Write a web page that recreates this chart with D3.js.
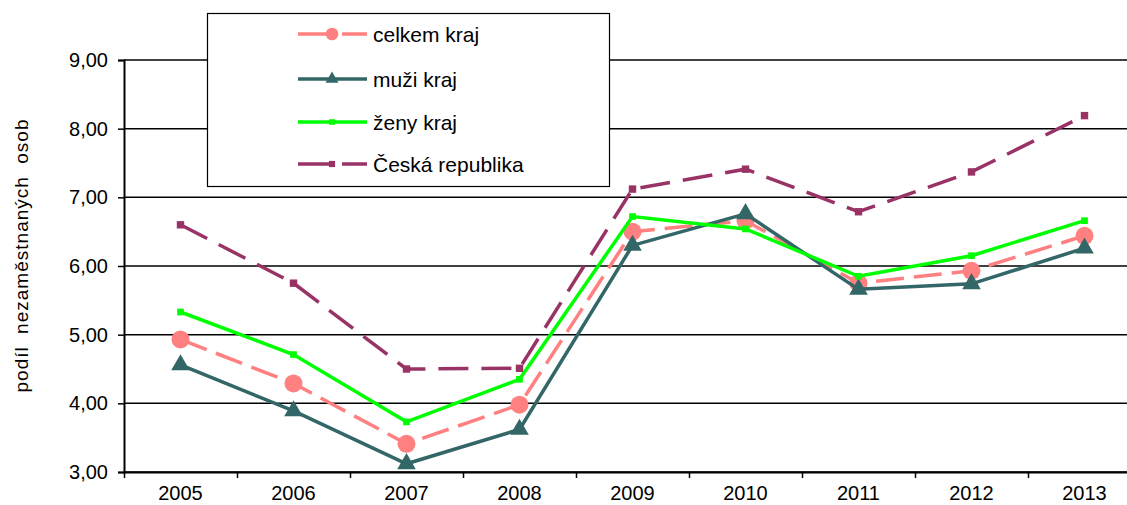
<!DOCTYPE html>
<html>
<head>
<meta charset="utf-8">
<script src="https://cdn.jsdelivr.net/npm/d3@7"></script>
<style>
  body { margin: 0; background: #fff; }
  svg { font-family: "Liberation Sans", Arial, sans-serif; }
</style>
</head>
<body>
<div id="chart"></div>
<script>
// data
const years = ['2005', '2006', '2007', '2008', '2009', '2010', '2011', '2012', '2013'];
const celkem = [4.93, 4.29, 3.41, 3.98, 6.50, 6.66, 5.75, 5.93, 6.44];
const muzi = [4.56, 3.89, 3.12, 3.62, 6.30, 6.76, 5.66, 5.74, 6.26];
const zeny = [5.33, 4.71, 3.73, 4.35, 6.72, 6.54, 5.85, 6.15, 6.66];
const cr = [6.60, 5.75, 4.50, 4.51, 7.12, 7.41, 6.79, 7.37, 8.19];
const yTicks = [3, 4, 5, 6, 7, 8, 9];

const seriesNames = ['celkem kraj', 'muži kraj', 'ženy kraj', 'Česká republika'];

const width = 1127, height = 505;
const plotLeft = 124, plotRight = 1141, plotTop = 60, plotBottom = 472;

const svg = d3.select('#chart').append('svg')
    .attr('width', width)
    .attr('height', height);

const x = d3.scaleBand().domain(years).range([plotLeft, plotRight]).padding(0);
const xEdge = d3.scaleLinear().domain([0, years.length]).range([plotLeft, plotRight]);
const y = d3.scaleLinear().domain([3, 9]).range([plotBottom, plotTop]);
const cx = d => x(d) + x.bandwidth() / 2;

const fmt = v => d3.format('.2f')(v).replace('.', ',');

// gridlines
svg.append('g')
    .selectAll('line')
    .data(yTicks)
    .enter()
    .append('line')
    .attr('x1', plotLeft)
    .attr('x2', plotRight)
    .attr('y1', d => y(d))
    .attr('y2', d => y(d))
    .style('stroke', '#000')
    .style('stroke-width', 1.5);

// y axis
const yAxis = svg.append('g')
    .attr('transform', `translate(${plotLeft},0)`)
    .call(d3.axisLeft(y).tickValues(yTicks).tickFormat(fmt).tickSize(6).tickPadding(10));
yAxis.select('.domain').style('stroke', '#000').style('stroke-width', 2);
yAxis.selectAll('.tick line').style('stroke-width', 1.5);
yAxis.selectAll('text').style('font-size', '20px').style('fill', '#000')
    .style('font-family', '"Liberation Sans", Arial, sans-serif');

// x axis: ticks on band edges, labels centred
const xAxis = svg.append('g')
    .attr('transform', `translate(0,${plotBottom})`)
    .call(d3.axisBottom(xEdge).tickValues(d3.range(years.length + 1)).tickFormat('').tickSize(6).tickSizeOuter(0));
xAxis.select('.domain').style('stroke', '#000').style('stroke-width', 2);
xAxis.selectAll('.tick line').style('stroke-width', 1.5);

svg.append('g')
    .selectAll('text')
    .data(years)
    .enter()
    .append('text')
    .attr('x', d => cx(d))
    .attr('y', 500)
    .attr('text-anchor', 'middle')
    .style('font-size', '20px')
    .text(d => d);

// y title
svg.append('text')
    .attr('transform', `translate(28,256) rotate(-90)`)
    .attr('text-anchor', 'middle')
    .attr('textLength', 273)
    .attr('lengthAdjust', 'spacing')
    .style('font-size', '19px')
    .style('word-spacing', '6px')
    .text('podíl nezaměstnaných osob');

const line = d3.line()
    .x((d, i) => cx(years[i]))
    .y(d => y(d));

const series = [
    { name: seriesNames[0], values: celkem, color: '#FF8080', dash: '28,10', marker: 'circle' },
    { name: seriesNames[1], values: muzi, color: '#336666', dash: null, marker: 'triangle' },
    { name: seriesNames[2], values: zeny, color: '#00FF00', dash: null, marker: 'star' },
    { name: seriesNames[3], values: cr, color: '#993366', dash: '30,13', marker: 'square' }
];

const drawMarker = (g, type, color, px, py, small) => {
    const k = small ? 0.7 : 1;
    if (type === 'circle') {
        g.append('circle').attr('cx', px).attr('cy', py).attr('r', 9 * k).style('fill', color);
    } else if (type === 'triangle') {
        g.append('path')
            .attr('transform', `translate(${px},${py})`)
            .attr('d', d3.symbol().type(d3.symbolTriangle).size(150 * k * k)())
            .style('fill', color);
    } else if (type === 'star') {
        g.append('path')
            .attr('transform', `translate(${px},${py})`)
            .attr('d', d3.symbol().type(d3.symbolSquare).size(45 * k)())
            .style('fill', color);
        g.append('path')
            .attr('transform', `translate(${px},${py})`)
            .attr('d', d3.symbol().type(d3.symbolX).size(60 * k)())
            .style('fill', color);
    } else {
        g.append('path')
            .attr('transform', `translate(${px},${py})`)
            .attr('d', d3.symbol().type(d3.symbolSquare).size(55 * k)())
            .style('fill', color);
    }
};

series.forEach(s => {
    const g = svg.append('g');
    g.append('path')
        .datum(s.values)
        .attr('d', line)
        .style('fill', 'none')
        .style('stroke', s.color)
        .style('stroke-width', 3.5)
        .style('stroke-dasharray', s.dash);
    s.values.forEach((v, i) => drawMarker(g, s.marker, s.color, cx(years[i]), y(v), false));
});

// legend
const lg = svg.append('g');
lg.append('rect')
    .attr('x', 207.5)
    .attr('y', 13.5)
    .attr('width', 402)
    .attr('height', 173)
    .style('fill', '#fff')
    .style('stroke', '#000')
    .style('stroke-width', 1.2);

const rowY = [34, 79, 122, 164];
series.forEach((s, i) => {
    const g = lg.append('g');
    const yy = rowY[i];
    if (s.dash) {
        g.append('line').attr('x1', 298).attr('x2', 332).attr('y1', yy).attr('y2', yy)
            .style('stroke', s.color).style('stroke-width', 3.5);
        g.append('line').attr('x1', 342).attr('x2', 367).attr('y1', yy).attr('y2', yy)
            .style('stroke', s.color).style('stroke-width', 3.5);
    } else {
        g.append('line').attr('x1', 298).attr('x2', 367).attr('y1', yy).attr('y2', yy)
            .style('stroke', s.color).style('stroke-width', 3.5);
    }
    drawMarker(g, s.marker, s.color, 332, yy, true);
    g.append('text')
        .attr('x', 373)
        .attr('y', yy + 8)
        .style('font-size', '21px')
        .text(s.name);
});
</script>
</body>
</html>
